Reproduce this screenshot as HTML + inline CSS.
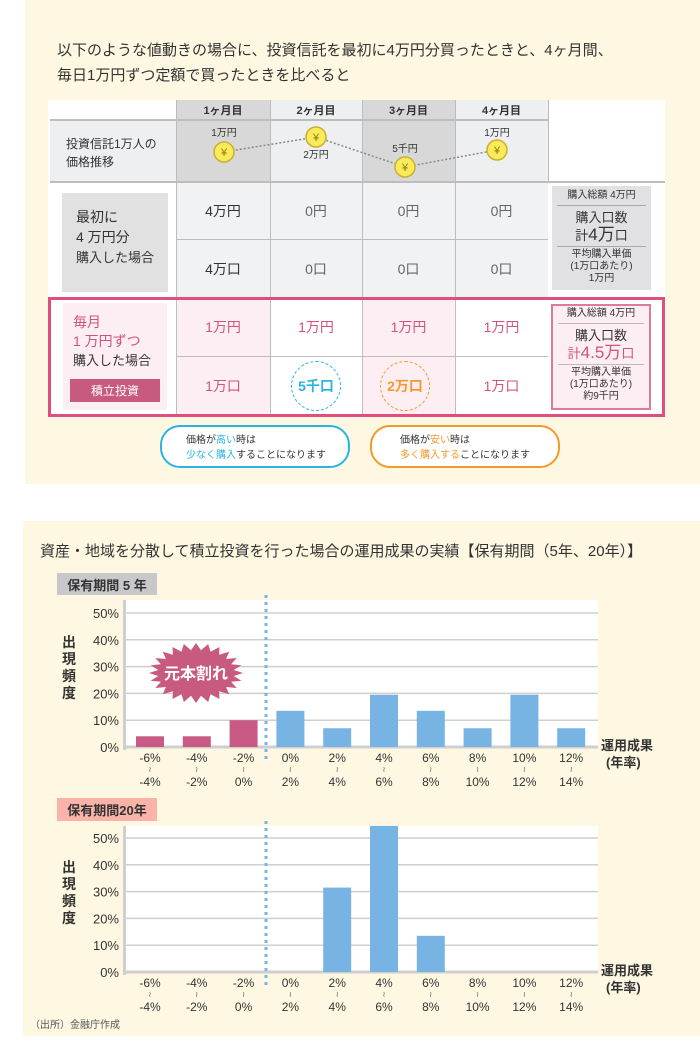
<!DOCTYPE html>
<html><head><meta charset="utf-8">
<style>
*{margin:0;padding:0;box-sizing:border-box}
body{width:700px;height:1064px;background:#fff;position:relative;overflow:hidden;font-family:"Liberation Sans","Noto Sans CJK JP",sans-serif;color:#333}
.a{position:absolute}
.c{position:absolute;display:flex;align-items:center;justify-content:center;text-align:center}
.pk{color:#d2527f}
</style></head><body>
<div class="a" style="left:25px;top:0;width:675px;height:484px;background:#fef8e3"></div>
<div class="a" style="left:57px;top:38px;font-size:15px;line-height:25px;color:#333">以下のような値動きの場合に、投資信託を最初に4万円分買ったときと、4ヶ月間、<br>毎日1万円ずつ定額で買ったときを比べると</div>

<div class="a" style="left:48px;top:100px;width:617px;height:317px;background:#fff"></div>
<div class="a" style="left:50px;top:120px;width:126px;height:62px;background:#eeeff1"></div>
<div class="a" style="left:176px;top:100px;width:94px;height:82px;background:#d8d8d8"></div>
<div class="a" style="left:270px;top:100px;width:92px;height:82px;background:#eeeff1"></div>
<div class="a" style="left:362px;top:100px;width:93px;height:82px;background:#d8d8d8"></div>
<div class="a" style="left:455px;top:100px;width:93px;height:82px;background:#eeeff1"></div>
<div class="a" style="left:176px;top:182px;width:372px;height:116px;background:#f1f2f4"></div>
<div class="a" style="left:176px;top:298px;width:94px;height:118px;background:#fdeef3"></div>
<div class="a" style="left:362px;top:298px;width:93px;height:118px;background:#fdeef3"></div>
<div class="a" style="left:50px;top:119px;width:498px;height:2px;background:#bdbdbd"></div>
<div class="a" style="left:50px;top:181px;width:615px;height:2px;background:#bdbdbd"></div>
<div class="a" style="left:176px;top:239px;width:372px;height:1px;background:#bdbdbd"></div>
<div class="a" style="left:176px;top:356px;width:372px;height:1px;background:#bdbdbd"></div>
<div class="a" style="left:176px;top:100px;width:1px;height:316px;background:#bdbdbd"></div>
<div class="a" style="left:270px;top:100px;width:1px;height:316px;background:#bdbdbd"></div>
<div class="a" style="left:362px;top:100px;width:1px;height:316px;background:#bdbdbd"></div>
<div class="a" style="left:455px;top:100px;width:1px;height:316px;background:#bdbdbd"></div>
<div class="a" style="left:548px;top:100px;width:1px;height:82px;background:#bdbdbd"></div>

<div class="c" style="left:176px;top:100px;width:94px;height:20px;font-size:11px;font-weight:bold">1ヶ月目</div>
<div class="c" style="left:270px;top:100px;width:92px;height:20px;font-size:11px;font-weight:bold">2ヶ月目</div>
<div class="c" style="left:362px;top:100px;width:93px;height:20px;font-size:11px;font-weight:bold">3ヶ月目</div>
<div class="c" style="left:455px;top:100px;width:93px;height:20px;font-size:11px;font-weight:bold">4ヶ月目</div>
<div class="a" style="left:66px;top:135px;font-size:12px;line-height:18px">投資信託1万人の<br>価格推移</div>

<svg class="a" style="left:176px;top:120px" width="372" height="62">
<polyline points="48,32 140,17 229,47 321,30" fill="none" stroke="#888" stroke-width="1.5" stroke-dasharray="2,2"/>
<g fill="#fbea5a" stroke="#c9b130" stroke-width="1.5">
<circle cx="48" cy="32" r="10"/><circle cx="140" cy="17" r="10"/><circle cx="229" cy="47" r="10"/><circle cx="321" cy="30" r="10"/></g>
<g font-size="11" fill="#8a7a10" text-anchor="middle" font-family="Liberation Sans,Noto Sans CJK JP,sans-serif">
<text x="48" y="36">¥</text><text x="140" y="21">¥</text><text x="229" y="51">¥</text><text x="321" y="34">¥</text></g>
<g font-size="10" fill="#333" text-anchor="middle" font-family="Liberation Sans,Noto Sans CJK JP,sans-serif">
<text x="48" y="16">1万円</text><text x="140" y="38">2万円</text><text x="229" y="32">5千円</text><text x="321" y="16">1万円</text></g>
</svg>

<div class="a" style="left:62px;top:193px;width:106px;height:99px;background:#e1e1e1;font-size:14px;line-height:20px;padding:14px 0 0 14px">最初に<br>4 万円分<br><span style="font-size:13px">購入した場合</span></div>
<div class="c" style="left:176px;top:182px;width:94px;height:58px;font-size:14px">4万円</div>
<div class="c" style="left:270px;top:182px;width:92px;height:58px;font-size:14px;color:#666">0円</div>
<div class="c" style="left:362px;top:182px;width:93px;height:58px;font-size:14px;color:#666">0円</div>
<div class="c" style="left:455px;top:182px;width:93px;height:58px;font-size:14px;color:#666">0円</div>
<div class="c" style="left:176px;top:240px;width:94px;height:58px;font-size:14px">4万口</div>
<div class="c" style="left:270px;top:240px;width:92px;height:58px;font-size:14px;color:#666">0口</div>
<div class="c" style="left:362px;top:240px;width:93px;height:58px;font-size:14px;color:#666">0口</div>
<div class="c" style="left:455px;top:240px;width:93px;height:58px;font-size:14px;color:#666">0口</div>
<div class="a" style="left:552px;top:186px;width:99px;height:104px;background:#e1e1e4;text-align:center;font-size:10px;line-height:12px;padding-top:4px">購入総額 4万円<div style="margin:3px 5px;border-top:1px solid #aaa"></div><div style="font-size:13px;line-height:17px">購入口数<br>計<span style="font-size:17px">4万</span>口</div><div style="margin:2px 5px 2px;border-top:1px solid #aaa"></div>平均購入単価<br>(1万口あたり)<br>1万円</div>

<div class="a" style="left:48px;top:297px;width:617px;height:120px;border:3px solid #de4f7d"></div>
<div class="a" style="left:63px;top:303px;width:104px;height:107px;background:#fdeef3;font-size:14px;line-height:19px;padding:10px 0 0 10px"><span class="pk">毎月<br>1 万円ずつ</span><br><span style="font-size:13px">購入した場合</span></div>
<div class="c" style="left:70px;top:379px;width:90px;height:23px;background:#c95a7f;color:#fff;font-size:12px">積立投資</div>
<div class="c pk" style="left:176px;top:298px;width:94px;height:58px;font-size:14px">1万円</div>
<div class="c pk" style="left:270px;top:298px;width:92px;height:58px;font-size:14px">1万円</div>
<div class="c pk" style="left:362px;top:298px;width:93px;height:58px;font-size:14px">1万円</div>
<div class="c pk" style="left:455px;top:298px;width:93px;height:58px;font-size:14px">1万円</div>
<div class="c pk" style="left:176px;top:357px;width:94px;height:58px;font-size:14px">1万口</div>
<div class="c" style="left:291px;top:361px;width:50px;height:50px;border:1.5px dashed #29b5e0;border-radius:50%;color:#29b5e0;font-size:14px;font-weight:bold">5千口</div>
<div class="c" style="left:380px;top:361px;width:50px;height:50px;border:1.5px dashed #f39a2a;border-radius:50%;color:#f39a2a;font-size:14px;font-weight:bold">2万口</div>
<div class="c pk" style="left:455px;top:357px;width:93px;height:58px;font-size:14px">1万口</div>
<div class="a" style="left:551px;top:304px;width:100px;height:106px;background:#fdeef3;border:2px solid #de7a9a;text-align:center;font-size:10px;line-height:12px;padding-top:2px">購入総額 4万円<div style="margin:3px 5px;border-top:1px solid #bbb"></div><div style="font-size:13px;line-height:17px">購入口数<br><span class="pk">計<span style="font-size:17px">4.5万</span>口</span></div><div style="margin:2px 5px;border-top:1px solid #bbb"></div>平均購入単価<br>(1万口あたり)<br>約9千円</div>

<div class="a" style="left:160px;top:425px;width:190px;height:43px;border:2px solid #29b5e0;border-radius:20px;background:#fff;font-size:10px;line-height:15px;padding:6px 0 0 24px">価格が<span style="color:#29b5e0">高い</span>時は<br><span style="color:#29b5e0">少なく購入</span>することになります</div>
<div class="a" style="left:370px;top:425px;width:190px;height:43px;border:2px solid #f39a2a;border-radius:20px;background:#fff;font-size:10px;line-height:15px;padding:6px 0 0 28px">価格が<span style="color:#f39a2a">安い</span>時は<br><span style="color:#f39a2a">多く購入する</span>ことになります</div>

<div class="a" style="left:23px;top:521px;width:677px;height:515px;background:#fef8e3"></div>
<div class="a" style="left:40px;top:540px;font-size:15px;white-space:nowrap">資産・地域を分散して積立投資を行った場合の運用成果の実績【保有期間（5年、20年）】</div>
<div class="c" style="left:57px;top:573px;width:100px;height:22px;background:#c8c8ca;font-size:13px;font-weight:bold">保有期間 5 年</div>
<div class="c" style="left:57px;top:798px;width:100px;height:23px;background:#f9b3a8;font-size:13px;font-weight:bold">保有期間20年</div>
<div class="a" style="left:30px;top:1016px;font-size:10px;color:#555">（出所）金融庁作成</div>

<svg class="a" id="charts" style="left:0;top:0" width="700" height="1064"></svg>
<script>
const categoriesTop = ["-6%","-4%","-2%","0%","2%","4%","6%","8%","10%","12%"];
const categoriesBottom = ["-4%","-2%","0%","2%","4%","6%","8%","10%","12%","14%"];
const values5y = [4,4,10,13.5,7,19.5,13.5,7,19.5,7];
const values20y = [0,0,0,0,31.5,54.5,13.5,0,0,0];
const yTicks = [0,10,20,30,40,50];
const NS="http://www.w3.org/2000/svg";
const svg=document.getElementById('charts');
function mk(t,a,p){const e=document.createElementNS(NS,t);for(const k in a)e.setAttribute(k,a[k]);(p||svg).appendChild(e);return e;}
function chart(vals,base,top,name){
  const x0=126,x1=598,bw=28;
  const y=v=>base-v*2.68;
  const xc=i=>150+i*46.8;
  const g=mk('g',{});
  
  
  mk('rect',{x:x0,y:top,width:x1-x0,height:base-top,fill:'#fff'},g);
  mk('rect',{x:x0-3,y:top,width:3,height:base-top+3,fill:'#cfcfcf'},g);
  yTicks.forEach(t=>{
    mk('line',{x1:x0,x2:x1,y1:y(t),y2:y(t),stroke:'#cfcfcf','stroke-width':t===0?3:1.5},g);
    const tx=mk('text',{x:x0-7,y:y(t)+5,'text-anchor':'end','font-size':13,fill:'#333','font-family':'Liberation Sans,sans-serif'},g);
    tx.textContent=t+'%';
  });
  vals.forEach((v,i)=>{
    if(v<=0)return;
    const r=mk('rect',{x:xc(i)-bw/2,y:y(v),width:bw,height:base-y(v),fill:i<3?'#c95a86':'#78b4e3'},g);
    
    
  });
  categoriesTop.forEach((c,i)=>{
    const a=mk('text',{x:xc(i),y:base+15,'text-anchor':'middle','font-size':12,fill:'#333','font-family':'Liberation Sans,sans-serif'},g);a.textContent=c;
    const b=mk('text',{x:xc(i),y:base+25,'text-anchor':'middle','font-size':8,fill:'#666'},g);b.textContent='≀';
    const d=mk('text',{x:xc(i),y:base+39,'text-anchor':'middle','font-size':12,fill:'#333','font-family':'Liberation Sans,sans-serif'},g);d.textContent=categoriesBottom[i];
  });
  mk('line',{x1:266,x2:266,y1:top-5,y2:base+15,stroke:'#78b4e3','stroke-width':3,'stroke-dasharray':'3,4'},g);
  const t1=mk('text',{x:601,y:base+3,'font-size':13,'font-weight':'bold',fill:'#333','font-family':'Liberation Sans,Noto Sans CJK JP,sans-serif'},g);t1.textContent='運用成果';
  const t2=mk('text',{x:606,y:base+20,'font-size':13,'font-weight':'bold',fill:'#333','font-family':'Liberation Sans,Noto Sans CJK JP,sans-serif'},g);t2.textContent='(年率)';
  ['出','現','頻','度'].forEach((ch,k)=>{const t=mk('text',{x:62,y:base-100+k*17,'font-size':14,'font-weight':'bold',fill:'#333','font-family':'Noto Sans CJK JP,sans-serif'},g);t.textContent=ch;});
}
chart(values5y,747,600,'chart-5y');
chart(values20y,972,826,'chart-20y');
const pts=[];const cx=196,cy=673,n=24;
for(let i=0;i<n*2;i++){const r=i%2?38:47,ry=i%2?23:30,a=i*Math.PI/n;pts.push((cx+r*Math.cos(a)).toFixed(1)+','+(cy+ry*Math.sin(a)).toFixed(1));}
const sb=mk('polygon',{points:pts.join(' '),fill:'#c95a7f'});


const st=mk('text',{x:cx,y:cy+6,'text-anchor':'middle','font-size':16,'font-weight':'bold',fill:'#fff','font-family':'Noto Sans CJK JP,sans-serif'});st.textContent='元本割れ';
</script>
</body></html>
